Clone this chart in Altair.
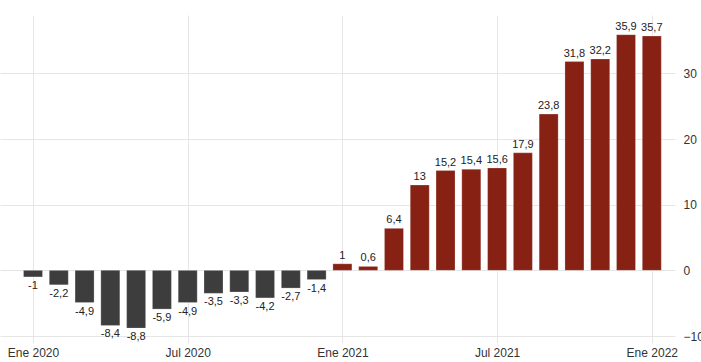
import altair as alt
import pandas as pd

months = ["2020-01", "2020-02", "2020-03", "2020-04", "2020-05", "2020-06",
          "2020-07", "2020-08", "2020-09", "2020-10", "2020-11", "2020-12",
          "2021-01", "2021-02", "2021-03", "2021-04", "2021-05", "2021-06",
          "2021-07", "2021-08", "2021-09", "2021-10", "2021-11", "2021-12",
          "2022-01"]
values = [-1, -2.2, -4.9, -8.4, -8.8, -5.9, -4.9, -3.5, -3.3, -4.2, -2.7, -1.4,
          1, 0.6, 6.4, 13, 15.2, 15.4, 15.6, 17.9, 23.8, 31.8, 32.2, 35.9, 35.7]
tick_index = [0, 6, 12, 18, 24]
tick_labels = ["Ene 2020", "Jul 2020", "Ene 2021", "Jul 2021", "Ene 2022"]
y_ticks = [-10, 0, 10, 20, 30]

df = pd.DataFrame({
    "month": months,
    "idx": list(range(len(months))),
    "value": values,
    "label": [f"{v:g}".replace(".", ",") for v in values],
})

label_expr = "[" + ",".join(f"'{t}'" for t in tick_labels) + "][round(datum.value/6)]"

FONT = "Liberation Sans"
GRID = "#e6e6e6"

x = alt.X("idx:Q",
          scale=alt.Scale(domain=[-1.28, 24.9], nice=False, zero=False, padding=0),
          axis=alt.Axis(values=tick_index, labelExpr=label_expr, title=None,
                        grid=True, gridColor=GRID, domain=False,
                        tickColor=GRID, tickSize=7, labelPadding=4,
                        labelFont=FONT, labelFontSize=12, labelColor="#333333",
                        labelFlush=False, labelOverlap=False))
y = alt.Y("value:Q",
          scale=alt.Scale(domain=[-10, 38.9], nice=False),
          axis=alt.Axis(orient="right", values=y_ticks, title=None,
                        grid=True, gridColor=GRID, domain=False, ticks=False,
                        labelPadding=8, labelAlign="left",
                        labelFont=FONT, labelFontSize=12, labelColor="#333333"))

base = alt.Chart(df)

bars = base.mark_bar(size=19, stroke="#ffffff", strokeWidth=0.6, strokeOpacity=0.4).encode(
    x=x, y=y,
    color=alt.condition("datum.value >= 0", alt.value("#862114"), alt.value("#3d3d3d")),
)

pos_text = base.transform_filter("datum.value >= 0").mark_text(
    baseline="bottom", dy=-3, font=FONT, fontSize=11, color="#222222"
).encode(x="idx:Q", y="value:Q", text="label:N")

neg_text = base.transform_filter("datum.value < 0").mark_text(
    baseline="top", dy=3, font=FONT, fontSize=11, color="#222222"
).encode(x="idx:Q", y="value:Q", text="label:N")

chart = (bars + pos_text + neg_text).properties(
    width=675, height=321,
    padding={"left": 0, "top": 15, "right": 26, "bottom": 26},
    autosize=alt.AutoSizeParams(type="none"),
    background="#ffffff",
).configure_view(stroke=None)

chart.save("out.html", embed_options={"renderer": "svg", "actions": False})
